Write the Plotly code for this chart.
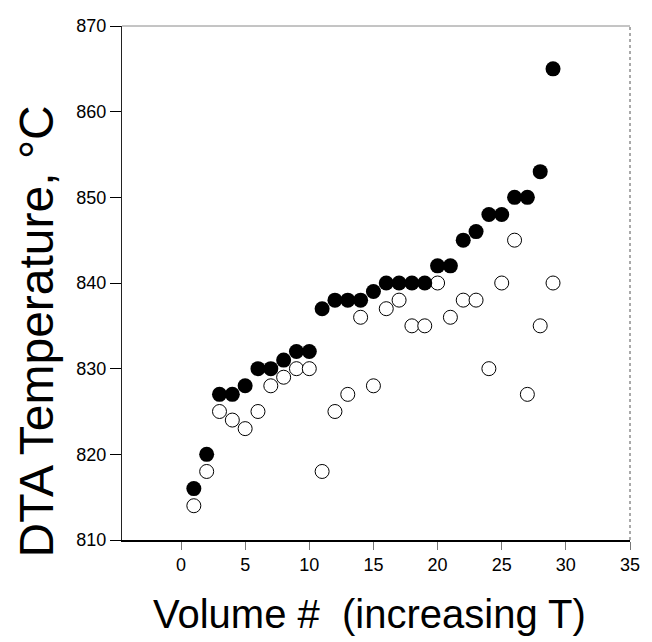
import plotly.graph_objects as go

# Volume index (samples ordered by increasing temperature)
volume = list(range(1, 30))

# DTA peak temperatures (°C), filled series
dta_high = [816, 820, 827, 827, 828, 830, 830, 831, 832, 832,
            837, 838, 838, 838, 839, 840, 840, 840, 840, 842,
            842, 845, 846, 848, 848, 850, 850, 853, 865]

# DTA onset temperatures (°C), open series
dta_low = [814, 818, 825, 824, 823, 825, 828, 829, 830, 830,
           818, 825, 827, 836, 828, 837, 838, 835, 835, 840,
           836, 838, 838, 830, 840, 845, 827, 835, 840]

x_ticks = [0, 5, 10, 15, 20, 25, 30, 35]
y_ticks = [810, 820, 830, 840, 850, 860, 870]

FONT = "Liberation Sans, Arial, sans-serif"

fig = go.Figure()

fig.add_trace(go.Scatter(
    x=volume, y=dta_low, mode="markers",
    marker=dict(symbol="circle", size=14, color="white",
                line=dict(color="black", width=1)),
    showlegend=False,
))
fig.add_trace(go.Scatter(
    x=volume, y=dta_high, mode="markers",
    marker=dict(symbol="circle", size=15, color="black",
                line=dict(color="black", width=0)),
    showlegend=False,
))

# light top and right frame lines
fig.add_shape(type="line", xref="paper", yref="paper", x0=0, x1=1, y0=1, y1=1,
              line=dict(color="#8a8a8a", width=1))
fig.add_shape(type="line", xref="paper", yref="paper", x0=1, x1=1, y0=0, y1=1,
              line=dict(color="#555555", width=1, dash="dot"))

# axis titles
fig.add_annotation(text="DTA Temperature, °C", xref="paper", yref="paper",
                   x=-0.168, y=0.405, xanchor="center", yanchor="middle",
                   textangle=-90, showarrow=False,
                   font=dict(size=48, family=FONT, color="black"))
fig.add_annotation(text="Volume #&nbsp; (increasing T)", xref="paper", yref="paper",
                   x=0.4865, y=-0.143, xanchor="center", yanchor="middle",
                   showarrow=False,
                   font=dict(size=40, family=FONT, color="black"))

fig.update_layout(
    width=652, height=642,
    margin=dict(l=122, r=13, t=26, b=102),
    paper_bgcolor="white", plot_bgcolor="white",
    font=dict(family=FONT, color="black"),
)

fig.update_xaxes(
    range=[-4.6, 35],
    tickvals=x_ticks, ticktext=[str(v) for v in x_ticks],
    ticks="outside", ticklen=8, tickwidth=1, tickcolor="#777777",
    tickfont=dict(size=18, family=FONT),
    showline=True, linecolor="black", linewidth=1.5,
    showgrid=False, zeroline=False,
)
fig.update_yaxes(
    range=[810, 870],
    tickvals=y_ticks, ticktext=[str(v) for v in y_ticks],
    ticks="outside", ticklen=11, tickwidth=1, tickcolor="black",
    tickfont=dict(size=18, family=FONT),
    showline=True, linecolor="#222222", linewidth=1,
    showgrid=False, zeroline=False,
)

fig.write_html("out.html")
